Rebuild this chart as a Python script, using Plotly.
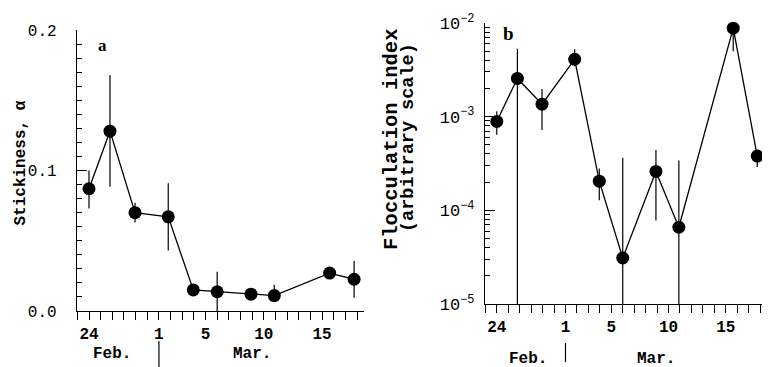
import plotly.graph_objects as go

# ---- data ----
days = [0, 1.8, 3.95, 6.8, 8.95, 11.0, 13.9, 15.9, 20.65, 22.75]   # days after Feb 24
x_tickvals = [0, 6, 10, 15, 20]
x_ticktext = ["24", "1", "5", "10", "15"]

stickiness = [0.087, 0.128, 0.070, 0.067, 0.015, 0.0137, 0.012, 0.011, 0.027, 0.0226]
stick_hi = [0.100, 0.168, 0.077, 0.091, 0.015, 0.028, 0.012, 0.0185, 0.027, 0.0356]
stick_lo = [0.073, 0.0885, 0.063, 0.043, 0.015, 0.0, 0.012, 0.008, 0.027, 0.0095]

floc = [8.9e-4, 2.56e-3, 1.36e-3, 4.1e-3, 2.05e-4, 3.1e-5, 2.6e-4, 6.6e-5, 8.8e-3, 3.8e-4]
floc_hi = [1.14e-3, 5.3e-3, 1.98e-3, 5.25e-3, 2.8e-4, 3.65e-4, 4.4e-4, 3.4e-4, 1.06e-2, 4.2e-4]
floc_lo = [6.4e-4, 1e-5, 7.2e-4, 3.46e-3, 1.28e-4, 1e-5, 7.8e-5, 1e-5, 5.0e-3, 2.9e-4]

left_yticks = [0.0, 0.1, 0.2]
left_yticktext = ["0.0", "0.1", "0.2"]
right_yticks = [1e-5, 1e-4, 1e-3, 1e-2]
right_yticktext = ["10<sup>\u22125</sup>", "10<sup>\u22124</sup>", "10<sup>\u22123</sup>", "10<sup>\u22122</sup>"]

# page body margin (8px) offsets the figure inside the window
OFF = 8
W, H = 770 - OFF, 367 - OFF
MONO = "Liberation Mono"
SERIF = "Liberation Serif"


def px(x):
    return (x - OFF) / W


def py(y):
    return 1 - (y - OFF) / H


fig = go.Figure()

fig.add_trace(go.Scatter(
    x=days, y=stickiness, mode="lines+markers",
    line=dict(color="black", width=1.3),
    marker=dict(color="black", size=13),
    error_y=dict(type="data", symmetric=False,
                 array=[h - v for h, v in zip(stick_hi, stickiness)],
                 arrayminus=[v - l for v, l in zip(stickiness, stick_lo)],
                 color="black", thickness=1.2, width=0),
    xaxis="x", yaxis="y", showlegend=False, cliponaxis=False))

fig.add_trace(go.Scatter(
    x=days, y=floc, mode="lines+markers",
    line=dict(color="black", width=1.3),
    marker=dict(color="black", size=13),
    error_y=dict(type="data", symmetric=False,
                 array=[h - v for h, v in zip(floc_hi, floc)],
                 arrayminus=[v - l for v, l in zip(floc, floc_lo)],
                 color="black", thickness=1.2, width=0),
    xaxis="x2", yaxis="y2", showlegend=False, cliponaxis=False))

minor_log = [m * 10.0 ** e for e in (-5, -4, -3) for m in range(2, 10)]

xcommon = dict(range=[-1.03, 23.6], showline=True, linecolor="black", linewidth=1.3,
               showgrid=False, zeroline=False, ticks="outside", ticklen=8, tickwidth=1.2,
               tickcolor="black", tickmode="array", tickvals=x_tickvals,
               ticktext=["<b>%s</b>" % t for t in x_ticktext],
               tickfont=dict(family=MONO, size=16, color="black"),
               minor=dict(ticks="outside", ticklen=8, tickwidth=1.2, tickcolor="black",
                          dtick=1, tick0=0, showgrid=False),
               ticklabelstandoff=0, automargin=False)

fig.update_layout(
    template="none",
    width=W, height=H, margin=dict(l=0, r=0, t=0, b=0, autoexpand=False),
    paper_bgcolor="white", plot_bgcolor="white",
    xaxis=dict(domain=[px(77), px(364)], anchor="y", **xcommon),
    yaxis=dict(domain=[py(311), py(30)], anchor="x", range=[0, 0.2], automargin=False,
               showline=True, linecolor="black", linewidth=1.3, showgrid=False, zeroline=False,
               ticks="inside", ticklen=10, tickwidth=1.2, tickcolor="black",
               tickmode="array", tickvals=left_yticks, ticktext=left_yticktext,
               tickfont=dict(family=MONO, size=16, color="black"),
               ticklabelstandoff=16,
               minor=dict(ticks="inside", ticklen=5, tickwidth=1, tickcolor="black",
                          dtick=0.01, tick0=0, showgrid=False)),
    xaxis2=dict(domain=[px(485), px(767)], anchor="y2", **xcommon),
    yaxis2=dict(domain=[py(304), py(23)], anchor="x2", type="log", range=[-5, -2], automargin=False,
                showline=True, linecolor="black", linewidth=1.3, showgrid=False, zeroline=False,
                ticks="inside", ticklen=10, tickwidth=1.2, tickcolor="black",
                tickmode="array", tickvals=right_yticks, ticktext=right_yticktext,
                tickfont=dict(family=MONO, size=17, color="black"),
                ticklabelstandoff=6,
                minor=dict(ticks="inside", ticklen=5, tickwidth=1, tickcolor="black",
                           tickmode="array", tickvals=minor_log, showgrid=False)),
)

C = dict(xanchor="center", yanchor="middle", showarrow=False)
ann = []
# y-axis titles
ann.append(dict(text="<b>Stickiness, \u03b1</b>", x=px(20), y=py(163.5), xref="paper", yref="paper",
                textangle=-90, font=dict(family=MONO, size=16, color="black"), **C))
ann.append(dict(text="<b>Flocculation index</b>", x=px(391), y=py(139), xref="paper", yref="paper",
                textangle=-90, font=dict(family=MONO, size=20.5, color="black"), **C))
ann.append(dict(text="<b>(arbitrary scale)</b>", x=px(408), y=py(138), xref="paper", yref="paper",
                textangle=-90, font=dict(family=MONO, size=18.5, color="black"), **C))
# panel letters
ann.append(dict(text="<b>a</b>", x=px(102), y=py(45), xref="paper", yref="paper",
                font=dict(family=SERIF, size=17, color="black"), **C))
ann.append(dict(text="<b>b</b>", x=px(508), y=py(33), xref="paper", yref="paper",
                font=dict(family=SERIF, size=19, color="black"), **C))
# month labels
for xr, yc, xf, xm in (("x", 354, 2.0, 14.0), ("x2", 359, 2.7, 13.9)):
    ann.append(dict(text="<b>Feb.</b>", x=xf, y=py(yc), xref=xr, yref="paper",
                    font=dict(family=MONO, size=16, color="black"), **C))
    ann.append(dict(text="<b>Mar.</b>", x=xm, y=py(yc), xref=xr, yref="paper",
                    font=dict(family=MONO, size=16, color="black"), **C))
fig.update_layout(annotations=ann)

# Feb | Mar separators at Mar 1
fig.add_shape(type="line", xref="x", yref="paper", x0=6, x1=6, y0=py(341), y1=py(367),
              line=dict(color="black", width=1.2))
fig.add_shape(type="line", xref="x2", yref="paper", x0=6, x1=6, y0=py(343), y1=py(362),
              line=dict(color="black", width=1.2))

fig.write_html("out.html")
